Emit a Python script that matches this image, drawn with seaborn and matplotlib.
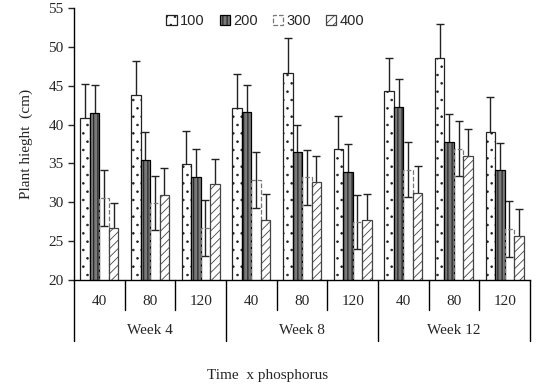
import pandas as pd
import seaborn as sns
import matplotlib.pyplot as plt

weeks = ["Week 4", "Week 8", "Week 12"]
phos = ["40", "80", "120"]
levels = ["100", "200", "300", "400"]

h100 = [40.9, 43.8, 34.9, 42.1, 46.7, 36.8, 44.3, 48.6, 39.1]
e100 = [4.3, 4.4, 4.3, 4.4, 4.4, 4.3, 4.3, 4.3, 4.5]
h200 = [41.5, 35.5, 33.3, 41.6, 36.5, 33.9, 42.2, 37.8, 34.1]
e200 = [3.6, 3.6, 3.5, 3.5, 3.5, 3.6, 3.6, 3.5, 3.5]
h300 = [30.5, 29.9, 26.7, 32.9, 33.2, 27.5, 34.2, 36.9, 26.6]
e300 = [3.6, 3.5, 3.6, 3.6, 3.5, 3.5, 3.5, 3.5, 3.6]
h400 = [26.7, 31.0, 32.3, 27.7, 32.6, 27.7, 31.2, 35.9, 25.7]
e400 = [3.2, 3.4, 3.3, 3.4, 3.4, 3.4, 3.5, 3.5, 3.4]

heights = {"100": h100, "200": h200, "300": h300, "400": h400}
errs = {"100": e100, "200": e200, "300": e300, "400": e400}

groups = [f"{w}|{p}" for w in weeks for p in phos]
rows = []
for lv in levels:
    for g, h in zip(groups, heights[lv]):
        rows.append({"group": g, "level": lv, "height": h})
df = pd.DataFrame(rows)

sns.set_style("white")
plt.rcParams["font.family"] = ["Liberation Serif", "DejaVu Serif"]
plt.rcParams["hatch.linewidth"] = 0.6

fig = plt.figure(figsize=(5.36, 3.92), dpi=100)
ax = fig.add_axes([74 / 536, 1 - 280 / 392, 456 / 536, 272 / 392])

sns.barplot(data=df, x="group", y="height", hue="level", order=groups,
            hue_order=levels, width=0.75, errorbar=None, legend=False, ax=ax,
            palette=["white"] * 4)

styles = {
    "100": dict(facecolor="white", edgecolor="#222222", hatch="..", linestyle="-"),
    "200": dict(facecolor="#7a7a7a", edgecolor="black", hatch="||||", linestyle="-"),
    "300": dict(facecolor="none", edgecolor="#777777", hatch=None, linestyle="--"),
    "400": dict(facecolor="white", edgecolor="#444444", hatch="////", linestyle="-"),
}

for lv, cont in zip(levels, ax.containers):
    st = styles[lv]
    xs = []
    for p in cont.patches:
        p.set_facecolor(st["facecolor"])
        p.set_edgecolor(st["edgecolor"])
        p.set_hatch(st["hatch"])
        p.set_linestyle(st["linestyle"])
        p.set_linewidth(0.9)
        p.set_zorder(2)
        xs.append(p.get_x() + p.get_width() / 2)
    ax.errorbar(xs, heights[lv], yerr=errs[lv], fmt="none", ecolor="#222222",
                elinewidth=1.0, capsize=3, capthick=1.0, zorder=1.5)

ax.set_ylim(20, 55)
ax.set_yticks(range(20, 56, 5))
ax.set_xlim(-0.5, len(groups) - 0.5)
ax.set_xticks(range(len(groups)))
ax.set_xticklabels([g.split("|")[1] for g in groups], fontsize=11)
ax.tick_params(axis="x", length=0, pad=11)
ax.tick_params(axis="y", labelsize=11, length=4, width=1, left=True, direction="out")
for s in ["top", "right"]:
    ax.spines[s].set_visible(False)
for s in ["left", "bottom"]:
    ax.spines[s].set_color("black")
    ax.spines[s].set_linewidth(1.0)

ax.set_ylabel("Plant hieght  (cm)", fontsize=11, labelpad=11)
ax.set_xlabel("")

tr = ax.get_xaxis_transform()
# small separators between phosphorus groups
for i in range(1, len(groups)):
    bottom = -0.224 if i % 3 == 0 else -0.110
    ax.plot([i - 0.5, i - 0.5], [0, bottom], color="black", lw=1.0,
            transform=tr, clip_on=False)
for xv in [-0.5, len(groups) - 0.5]:
    ax.plot([xv, xv], [0, -0.224], color="black", lw=1.0, transform=tr,
            clip_on=False)
for k, w in enumerate(weeks):
    ax.text(3 * k + 1, -0.184, w, transform=tr, ha="center", va="center",
            fontsize=11)

fig.text(268 / 536, 1 - 376 / 392, "Time  x phosphorus", ha="center",
         va="center", fontsize=11)

ax.legend(handles=list(ax.containers), labels=levels, loc="upper left",
          bbox_to_anchor=(0.19, 1.0), ncol=4, frameon=False,
          prop={"family": "Liberation Sans", "size": 10.5},
          handlelength=0.7, handleheight=0.7, handletextpad=0.25,
          columnspacing=1.0, borderaxespad=0.0)

fig.savefig("out.png", dpi=100)
